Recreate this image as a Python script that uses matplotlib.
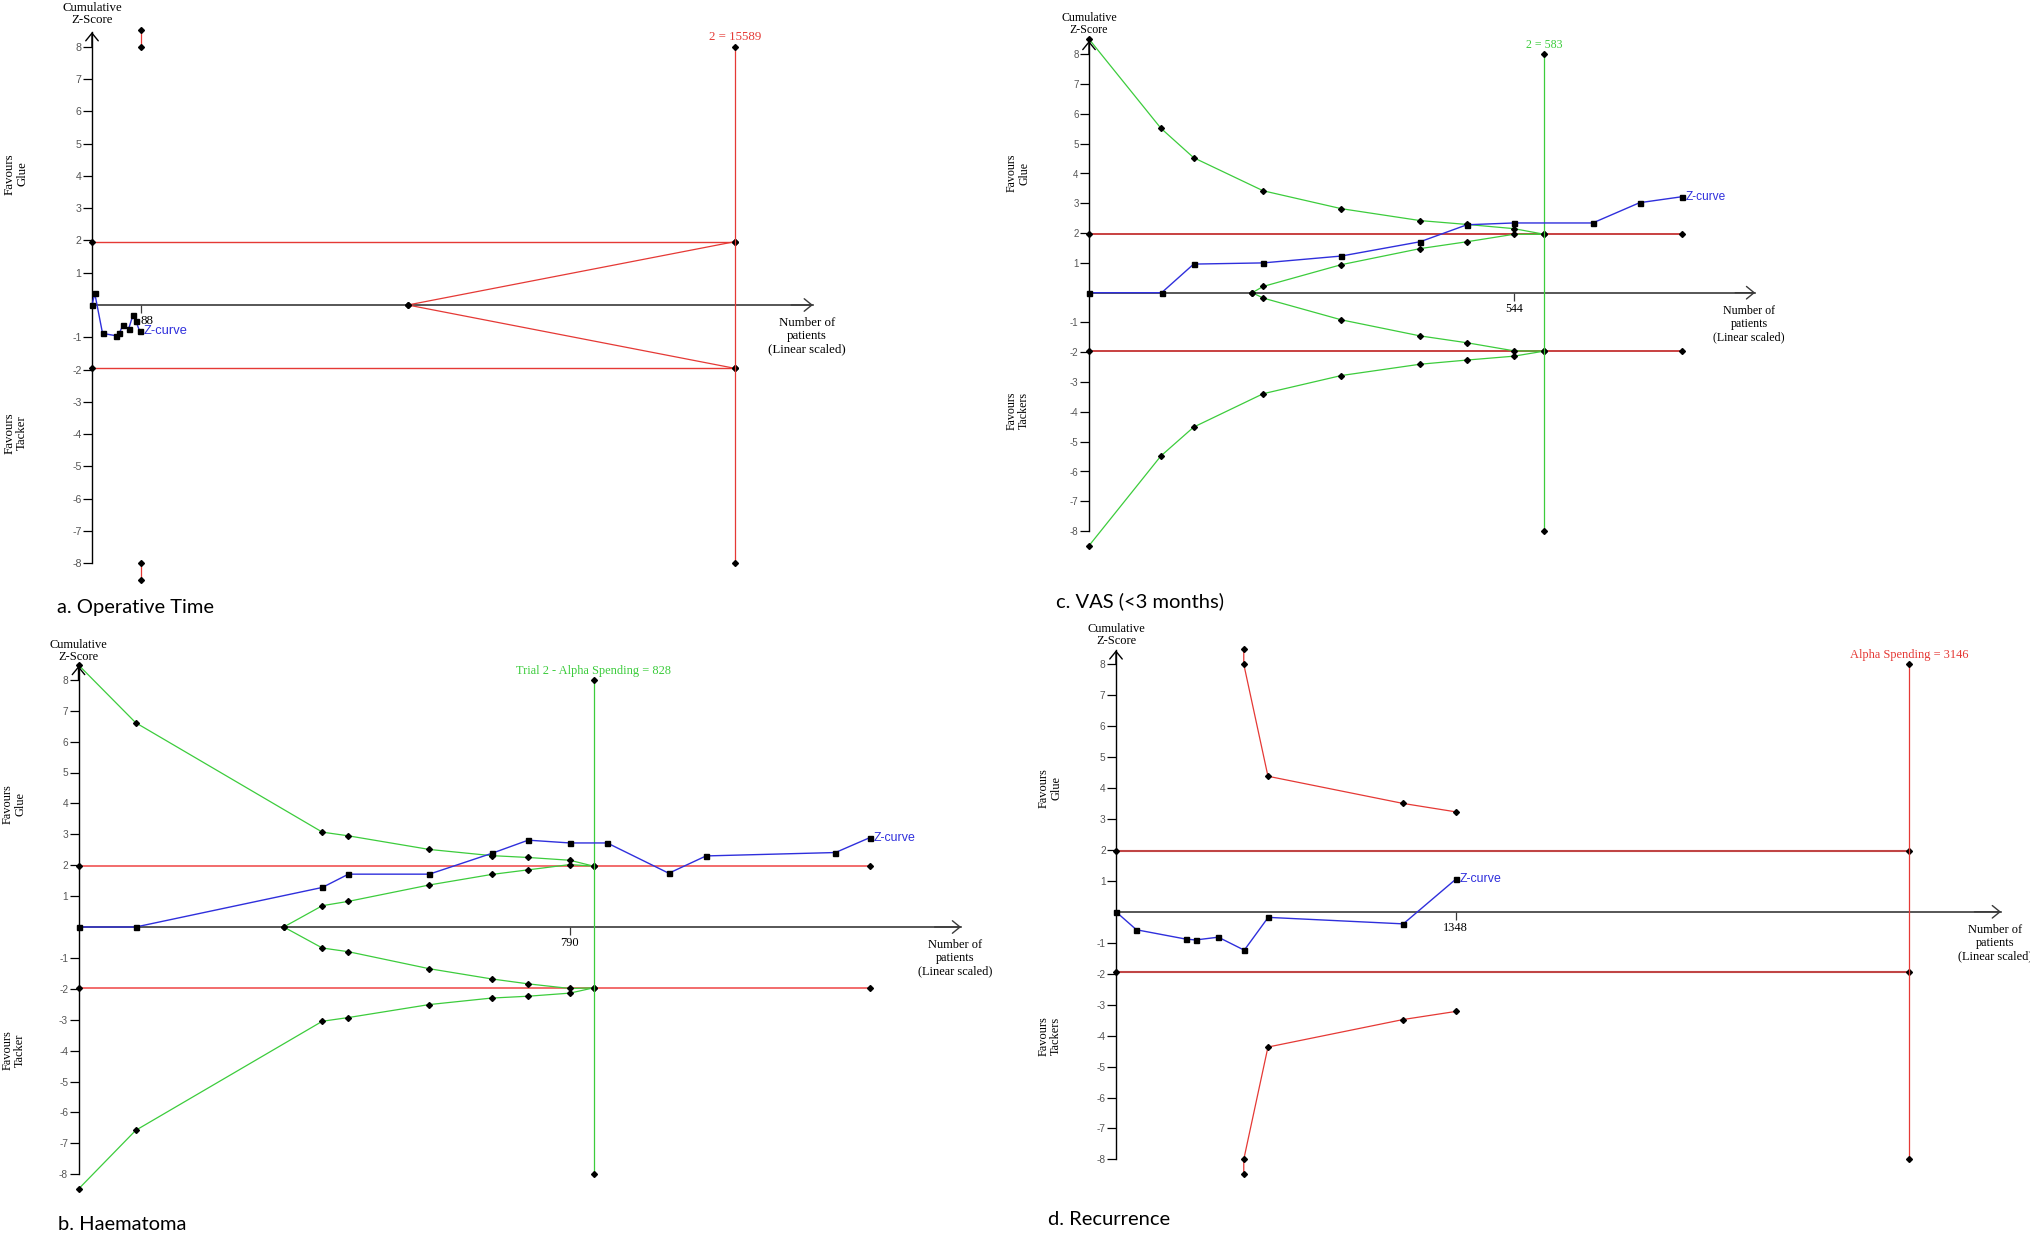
import matplotlib
matplotlib.use("Agg")
import matplotlib.pyplot as plt

# Trial sequential analysis plots: glue vs tackers

W, H = 2030, 1233
plt.rcParams['font.family'] = ['Liberation Serif', 'DejaVu Serif']

z_crit = 1.96            # conventional boundary
ris_span = [-8, 8]       # vertical line drawn at the required information size
z_ticks = [-8, -7, -6, -5, -4, -3, -2, -1, 1, 2, 3, 4, 5, 6, 7, 8]

# (a) operative time - axis not to scale beyond the trials in the original
a_z_x = [0, 5, 19, 43, 49, 56, 66, 74, 79, 86]
a_z = [0.0, 0.36, -0.88, -0.95, -0.88, -0.61, -0.74, -0.30, -0.49, -0.82]
a_tick = 88
a_ris = 1158
a_ris_label = "2 = 15589"
a_fut_x = [569, 1158]
a_fut_up = [0.0, 1.96]
a_fut_lo = [0.0, -1.96]
a_cut_x = [88, 88]
a_cut_up = [8.5, 8.0]
a_cut_lo = [-8.0, -8.5]
a_axis_end = 1299

# (b) haematoma
b_z_x = [0, 92, 392, 434, 564, 664, 723, 790, 850, 949, 1009, 1217, 1272]
b_z = [0.0, 0.0, 1.28, 1.71, 1.71, 2.38, 2.81, 2.72, 2.72, 1.74, 2.30, 2.41, 2.89]
b_alpha_x = [0, 92, 392, 434, 564, 664, 723, 790, 828]
b_alpha_up = [8.48, 6.61, 3.07, 2.95, 2.51, 2.31, 2.25, 2.16, 1.97]
b_alpha_lo = [-8.48, -6.58, -3.05, -2.93, -2.51, -2.30, -2.24, -2.14, -1.97]
b_fut_x = [330, 392, 434, 564, 664, 723, 790, 828]
b_fut_up = [0.0, 0.69, 0.83, 1.36, 1.70, 1.85, 2.02, 1.97]
b_fut_lo = [0.0, -0.68, -0.80, -1.35, -1.68, -1.84, -1.99, -1.97]
b_tick = 790
b_ris = 828
b_ris_label = "Trial 2 - Alpha Spending = 828"
b_axis_end = 1419

# (c) VAS (<3 months)
c_z_x = [0, 93, 134, 223, 323, 424, 484, 544, 645, 705, 759]
c_z = [0.0, 0.0, 0.96, 1.00, 1.23, 1.71, 2.28, 2.34, 2.34, 3.02, 3.22]
c_alpha_x = [0, 92, 134, 223, 323, 424, 484, 544, 583]
c_alpha_up = [8.51, 5.52, 4.53, 3.42, 2.82, 2.42, 2.29, 2.15, 1.96]
c_alpha_lo = [-8.49, -5.48, -4.51, -3.39, -2.78, -2.40, -2.26, -2.13, -1.96]
c_fut_x = [209, 223, 323, 424, 484, 544, 583]
c_fut_up = [0.0, 0.21, 0.94, 1.48, 1.71, 1.96, 1.96]
c_fut_lo = [0.0, -0.18, -0.91, -1.45, -1.68, -1.95, -1.96]
c_tick = 544
c_ris = 583
c_ris_label = "2 = 583"
c_axis_end = 853

# (d) recurrence
d_z_x = [0, 81, 276, 316, 406, 509, 604, 1140, 1348]
d_z = [0.0, -0.58, -0.88, -0.91, -0.82, -1.24, -0.18, -0.39, 1.05]
d_alpha_x = [507, 507, 603, 1140, 1348]
d_alpha_up = [8.5, 8.0, 4.38, 3.50, 3.23]
d_alpha_lo = [-8.48, -8.0, -4.37, -3.48, -3.22]
d_tick = 1348
d_ris = 3146
d_ris_label = "Alpha Spending = 3146"
d_axis_end = 3512

red = '#e53935'
green = '#3ccc3c'
blue = '#2f2fdc'

fig = plt.figure(figsize=(W / 100, H / 100), dpi=100)


def make_axes(x0, xs, y0, ys, xend, tick, tick_ha='center'):
    # x0,y0 = pixel of the origin, xs,ys = pixels per unit
    xlo, xhi = -0.05 * xend, 1.05 * xend
    ylo, yhi = -9.2, 9.2
    ax = fig.add_axes([(x0 + xlo * xs) / W, 1 - (y0 - ylo * ys) / H,
                       (xhi - xlo) * xs / W, (yhi - ylo) * ys / H])
    ax.set_xlim(xlo, xhi)
    ax.set_ylim(ylo, yhi)
    ax.patch.set_visible(False)
    fs = 8.6 * ys / 29.8
    for s in ['top', 'right']:
        ax.spines[s].set_visible(False)
    ax.spines['left'].set_position(('data', 0))
    ax.spines['left'].set_bounds(-8, 8.45)
    ax.spines['left'].set_linewidth(1.0)
    ax.spines['bottom'].set_position(('data', 0))
    ax.spines['bottom'].set_bounds(0, xend)
    ax.spines['bottom'].set_linewidth(1.2)
    ax.spines['bottom'].set_color('#3a3a3a')
    ax.set_yticks(z_ticks)
    ax.set_yticklabels([f"{t}" for t in z_ticks], family='Liberation Sans',
                       fontsize=fs * 0.82, color='#555555')
    ax.tick_params(axis='y', direction='out', length=6.5, width=0.9, pad=1)
    ax.set_xticks([tick])
    ax.set_xticklabels([str(tick)], fontsize=fs, ha=tick_ha)
    ax.tick_params(axis='x', direction='out', length=5.5, width=0.9, pad=2, color='#3a3a3a')
    head = dict(arrowstyle='->,head_length=0.55,head_width=0.45', lw=1.0,
                shrinkA=0, shrinkB=0, mutation_scale=10)
    ax.annotate('', xy=(xend, 0), xytext=(xend * 0.97, 0),
                arrowprops=dict(color='#3a3a3a', **head))
    ax.annotate('', xy=(0, 8.45), xytext=(0, 8.0), arrowprops=dict(color='black', **head))
    ax.annotate('Number of\npatients\n(Linear scaled)', xy=(xend, 0), xytext=(-4.5, -8.5),
                textcoords='offset points', ha='center', va='top', fontsize=fs,
                linespacing=1.15)
    return ax, fs


def bound(ax, x, y, color, lw=0.9):
    ax.plot(x, y, color=color, lw=lw, marker='D', ms=3, mfc='k', mec='k',
            clip_on=False, zorder=3)


def zcurve(ax, x, z, fs):
    ax.plot(x, z, color=blue, lw=1.0, marker='s', ms=3.6, mfc='k', mec='k',
            clip_on=False, zorder=4)
    ax.annotate('Z-curve', xy=(x[-1], z[-1]), xytext=(3, 0), textcoords='offset points',
                ha='left', va='center', color=blue, family='Liberation Sans', fontsize=fs)


def crit_lines(ax, xend, color, lw):
    bound(ax, [0, xend], [z_crit, z_crit], color, lw)
    bound(ax, [0, xend], [-z_crit, -z_crit], color, lw)


def ris_line(ax, x, label, color, fs):
    bound(ax, [x, x], ris_span, color)
    ax.text(x, 8.3, label, color=color, ha='center', va='center', fontsize=fs)


# panel a
ax, fs = make_axes(92, 0.555, 305, 32.3, a_axis_end, a_tick, tick_ha='left')
crit_lines(ax, a_ris, red, 1.0)
bound(ax, a_fut_x, a_fut_up, red)
bound(ax, a_fut_x, a_fut_lo, red)
bound(ax, a_cut_x, a_cut_up, red)
bound(ax, a_cut_x, a_cut_lo, red)
ris_line(ax, a_ris, a_ris_label, red, fs)
zcurve(ax, a_z_x, a_z, fs)

# panel b
ax, fs = make_axes(78.5, 0.622, 927, 30.9, b_axis_end, b_tick)
crit_lines(ax, b_z_x[-1], '#f26b6b', 1.4)
bound(ax, b_alpha_x, b_alpha_up, green)
bound(ax, b_alpha_x, b_alpha_lo, green)
bound(ax, b_fut_x, b_fut_up, green)
bound(ax, b_fut_x, b_fut_lo, green)
ris_line(ax, b_ris, b_ris_label, green, fs)
zcurve(ax, b_z_x, b_z, fs)

# panel c
ax, fs = make_axes(1089, 0.781, 292.7, 29.8, c_axis_end, c_tick)
crit_lines(ax, c_z_x[-1], '#c84040', 1.4)
bound(ax, c_alpha_x, c_alpha_up, green)
bound(ax, c_alpha_x, c_alpha_lo, green)
bound(ax, c_fut_x, c_fut_up, green)
bound(ax, c_fut_x, c_fut_lo, green)
ris_line(ax, c_ris, c_ris_label, green, fs)
zcurve(ax, c_z_x, c_z, fs)

# panel d
ax, fs = make_axes(1116, 0.252, 911.8, 30.95, d_axis_end, d_tick)
crit_lines(ax, d_ris, '#c04545', 1.5)
bound(ax, d_alpha_x, d_alpha_up, red)
bound(ax, d_alpha_x, d_alpha_lo, red)
ris_line(ax, d_ris, d_ris_label, red, fs)
zcurve(ax, d_z_x, d_z, fs)

# side and panel labels (pixel positions)
side = [
    (92, 14, 9.3, 16, 174, 'Glue', 433, 'Tacker'),
    (78.5, 651, 8.9, 14, 804, 'Glue', 1050, 'Tacker'),
    (1089, 24, 8.6, 1018, 173, 'Glue', 411, 'Tackers'),
    (1116, 635, 8.9, 1050, 788, 'Glue', 1036, 'Tackers'),
]
for cx, cy, fsz, fx, gy, gtxt, ty, ttxt in side:
    fig.text(cx / W, 1 - cy / H, 'Cumulative\nZ-Score', ha='center', va='center',
             fontsize=fsz, linespacing=1.1)
    fig.text(fx / W, 1 - gy / H, 'Favours\n' + gtxt, rotation=90, ha='center',
             va='center', fontsize=fsz, linespacing=1.05)
    fig.text(fx / W, 1 - ty / H, 'Favours\n' + ttxt, rotation=90, ha='center',
             va='center', fontsize=fsz, linespacing=1.05)

titles = [(57, 613, 'a. Operative Time'), (58, 1230, 'b. Haematoma'),
          (1056, 607, 'c. VAS (<3 months)'), (1048, 1225, 'd. Recurrence')]
for tx, ty, t in titles:
    fig.text(tx / W, 1 - ty / H, t, family='Lato', fontsize=14.5, ha='left', va='baseline')

fig.savefig('out.png', dpi=100)
